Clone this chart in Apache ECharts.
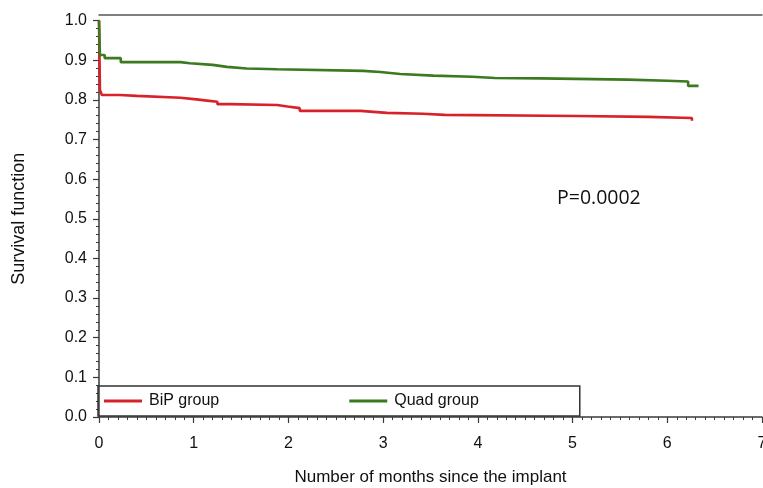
<!DOCTYPE html>
<html>
<head>
<meta charset="utf-8">
<script src="https://cdn.jsdelivr.net/npm/echarts@6/dist/echarts.min.js"></script>
<style>html,body{margin:0;padding:0;background:#fff;}#c{width:763px;height:488px;}</style>
</head>
<body>
<div id="c"></div>
<script>
// Kaplan-Meier step points: months since implant and survival
var bipMonths = [0, 0.01, 0.03, 0.22, 0.40, 0.86, 1.03, 1.14, 1.25, 1.38, 1.88, 1.99, 2.12, 2.76, 3.04, 3.42, 3.65, 5.05, 5.80, 6.26];
var bipSurv   = [1.0, 0.825, 0.812, 0.810, 0.805, 0.801, 0.798, 0.795, 0.789, 0.787, 0.783, 0.779, 0.772, 0.767, 0.765, 0.762, 0.759, 0.757, 0.754, 0.747];
var quadMonths = [0, 0.01, 0.06, 0.23, 0.86, 0.96, 1.20, 1.35, 1.56, 1.88, 2.79, 2.97, 3.18, 3.53, 3.94, 4.18, 4.66, 5.58, 6.00, 6.22, 6.33];
var quadSurv   = [1.0, 0.913, 0.905, 0.895, 0.892, 0.888, 0.883, 0.879, 0.877, 0.873, 0.870, 0.865, 0.861, 0.858, 0.855, 0.854, 0.851, 0.848, 0.846, 0.835, 0.835];
var seriesNames = ['BiP group', 'Quad group'];
var xTicks = [0, 1, 2, 3, 4, 5, 6, 7];
var yTicks = ['0.0','0.1','0.2','0.3','0.4','0.5','0.6','0.7','0.8','0.9','1.0'];
var pText = 'P=0.0002';

function pairs(xs, ys) { return xs.map(function (x, i) { return [x, ys[i]]; }); }

var FONT = 'Liberation Sans, Arial, sans-serif';
var AX = '#3a3a3a';
var chart = echarts.init(document.getElementById('c'), null, {renderer: 'canvas'});
chart.setOption({
  animation: false,
  backgroundColor: '#fff',
  grid: {left: 99, right: 1, top: 20.5, bottom: 71, containLabel: false, outerBoundsMode: 'none'},
  legend: {
    data: seriesNames,
    left: 98, top: 386,
    orient: 'horizontal',
    icon: 'rect', itemWidth: 38, itemHeight: 3,
    itemGap: 130,
    padding: [7, 101, 7, 6],
    borderColor: '#333', borderWidth: 1.5,
    textStyle: {fontFamily: FONT, fontSize: 16, color: '#111', padding: [0, 0, 0, 2]}
  },
  xAxis: [{
    type: 'value', min: 0, max: 7, interval: 1,
    offset: 5,
    name: 'Number of months since the implant', nameLocation: 'middle', nameGap: 47,
    nameTextStyle: {fontFamily: FONT, fontSize: 17, color: '#111'},
    axisLine: {show: true, lineStyle: {color: AX, width: 1.5}},
    axisTick: {show: true, length: 6, lineStyle: {color: AX, width: 1.2}},
    minorTick: {show: true, splitNumber: 10, length: 3, lineStyle: {color: AX, width: 1}},
    axisLabel: {fontFamily: FONT, fontSize: 16, color: '#111', margin: 14,
      formatter: function (v) { return xTicks.indexOf(v) >= 0 ? String(v) : ''; }},
    splitLine: {show: false}
  }, {
    type: 'value', min: 0, max: 7, position: 'top', offset: 6,
    axisLine: {show: true, lineStyle: {color: '#555', width: 1.5}},
    axisTick: {show: false}, axisLabel: {show: false}, splitLine: {show: false}
  }],
  yAxis: {
    type: 'value', min: 0, max: 1, interval: 0.1,
    offset: 4,
    name: 'Survival function', nameLocation: 'middle', nameGap: 67,
    nameTextStyle: {fontFamily: FONT, fontSize: 18, color: '#111'},
    axisLine: {show: true, lineStyle: {color: AX, width: 1.5}},
    axisTick: {show: true, length: 6, lineStyle: {color: AX, width: 1.2}},
    minorTick: {show: true, splitNumber: 5, length: 3, lineStyle: {color: AX, width: 1}},
    axisLabel: {fontFamily: FONT, fontSize: 16, color: '#111', margin: 8,
      formatter: function (v) { return yTicks[Math.round(v * 10)]; }},
    splitLine: {show: false}
  },
  graphic: [{
    type: 'text', left: 557, top: 188,
    style: {text: pText, font: '19.5px "Open Sans", sans-serif', fill: '#111'}
  }],
  series: [{
    name: seriesNames[0], type: 'line', step: 'end', showSymbol: false, symbol: 'none',
    data: pairs(bipMonths, bipSurv),
    lineStyle: {color: '#d8222a', width: 2.6}, itemStyle: {color: '#d8222a'}, z: 2
  }, {
    name: seriesNames[1], type: 'line', step: 'end', showSymbol: false, symbol: 'none',
    data: pairs(quadMonths, quadSurv),
    lineStyle: {color: '#3b7a1f', width: 2.6}, itemStyle: {color: '#3b7a1f'}, z: 3
  }]
});
</script>
</body>
</html>
